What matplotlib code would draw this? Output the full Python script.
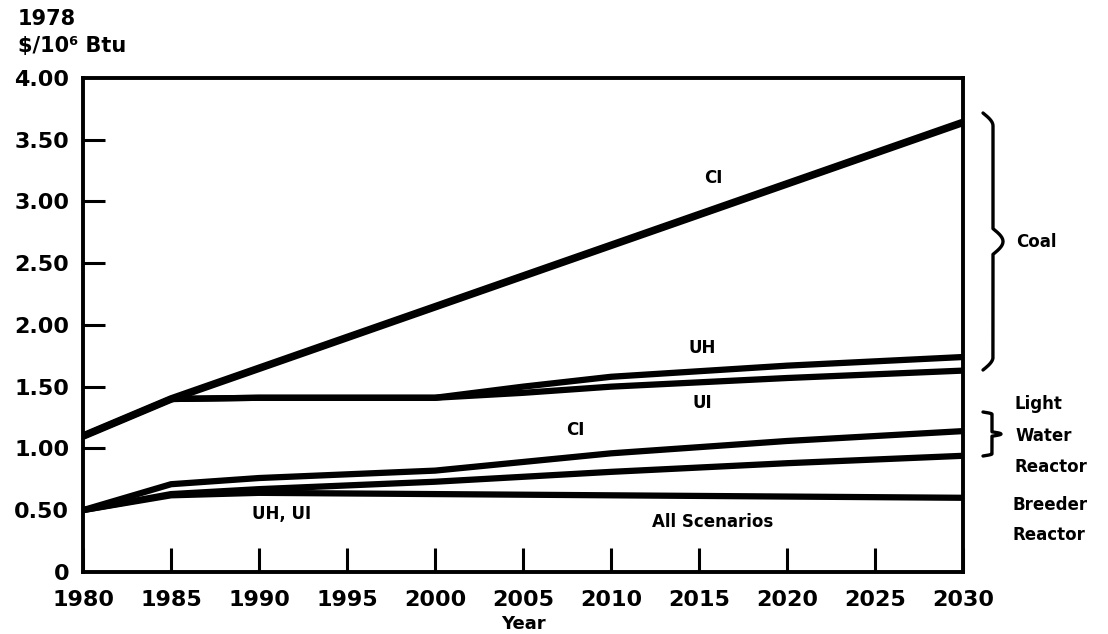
import numpy as np
import matplotlib.pyplot as plt

plt.rcParams['font.family'] = ['DejaVu Sans']
plt.rcParams['font.weight'] = 'bold'

# coal price paths, 1978 $/10^6 Btu
coal_ci_years = [1980, 1985, 2030]
coal_ci = [1.10, 1.40, 3.64]

coal_u_years = [1980, 1985, 1990, 2000, 2005, 2010, 2020, 2030]
coal_uh = [1.10, 1.40, 1.41, 1.41, 1.50, 1.58, 1.67, 1.74]
coal_ui = [1.10, 1.40, 1.41, 1.41, 1.45, 1.50, 1.57, 1.63]

# nuclear fuel cost paths
nuc_years = [1980, 1985, 1990, 2000, 2010, 2020, 2030]
lwr_ci = [0.50, 0.71, 0.76, 0.82, 0.96, 1.06, 1.14]
lwr_uh_ui = [0.50, 0.63, 0.67, 0.73, 0.81, 0.88, 0.94]
breeder = [0.50, 0.62, 0.64, 0.63, 0.62, 0.61, 0.60]

x_ticks = [1980, 1985, 1990, 1995, 2000, 2005, 2010, 2015, 2020, 2025, 2030]
y_ticks = [0, 0.5, 1.0, 1.5, 2.0, 2.5, 3.0, 3.5, 4.0]
y_labels = ['0', '0.50', '1.00', '1.50', '2.00', '2.50', '3.00', '3.50', '4.00']

fig = plt.figure(figsize=(11.08, 6.34), dpi=100)
ax = fig.add_axes([0.075, 0.098, 0.794, 0.779])

line_kw = dict(color='black', solid_capstyle='butt', solid_joinstyle='round')
ax.plot(coal_ci_years, coal_ci, lw=5.5, **line_kw)
ax.plot(coal_u_years, coal_uh, lw=4.5, **line_kw)
ax.plot(coal_u_years, coal_ui, lw=4.5, **line_kw)
ax.plot(nuc_years, lwr_ci, lw=4.5, **line_kw)
ax.plot(nuc_years, lwr_uh_ui, lw=4.5, **line_kw)
ax.plot(nuc_years, breeder, lw=4.5, **line_kw)

ax.set_xlim(1980, 2030)
ax.set_ylim(0, 4.0)
ax.set_xticks(x_ticks)
ax.set_yticks(y_ticks)
ax.set_yticklabels(y_labels)
ax.tick_params(axis='x', direction='in', length=17, width=2.2, pad=13, labelsize=16)
ax.tick_params(axis='y', direction='in', length=16, width=2.2, pad=10, labelsize=16)
for t in ax.xaxis.get_major_ticks():
    if t.get_loc() in (1980, 2030):
        t.tick1line.set_visible(False)
for t in ax.yaxis.get_major_ticks():
    if t.get_loc() in (0, 0.5, 4.0):
        t.tick1line.set_visible(False)
for s in ax.spines.values():
    s.set_linewidth(2.8)

ax.set_xlabel('Year', fontsize=13, fontweight='bold', labelpad=4)

# curve labels
lab = dict(fontsize=12, fontweight='bold', ha='center', va='center')
ax.text(2015.8, 3.19, 'CI', **lab)
ax.text(2015.2, 1.81, 'UH', **lab)
ax.text(2015.2, 1.37, 'UI', **lab)
ax.text(2008.0, 1.15, 'CI', **lab)
ax.text(1991.3, 0.47, 'UH, UI', **lab)
ax.text(2015.8, 0.40, 'All Scenarios', **lab)

# units above the value axis
fig.text(0.016, 0.970, '1978', fontsize=15, fontweight='bold', ha='left', va='center')
fig.text(0.016, 0.928, '$/10⁶ Btu', fontsize=15, fontweight='bold', ha='left', va='center')

# overlay in pixel units for the braces and group names on the right
ov = fig.add_axes([0, 0, 1, 1], facecolor='none')
ov.set_xlim(0, 1108)
ov.set_ylim(634, 0)
ov.axis('off')


def brace(x0, y0, y1, w):
    # curly brace opening to the left, tip pointing right
    ym = (y0 + y1) / 2
    k = 0.05 * (y1 - y0)
    t = np.linspace(0, 1, 40)
    xs, ys = [], []
    xs += list(x0 + 0.5 * w * np.sin(t * np.pi / 2)); ys += list(y0 + t * k)
    xs += [x0 + 0.5 * w, x0 + 0.5 * w]; ys += [y0 + k, ym - k]
    xs += list(x0 + 0.5 * w + 0.5 * w * np.sin(t * np.pi / 2)); ys += list(ym - k + t * k)
    xs += list(x0 + 0.5 * w + 0.5 * w * np.cos(t * np.pi / 2)); ys += list(ym + t * k)
    xs += [x0 + 0.5 * w, x0 + 0.5 * w]; ys += [ym + k, y1 - k]
    xs += list(x0 + 0.5 * w * np.cos(t * np.pi / 2)); ys += list(y1 - k + t * k)
    ov.plot(xs, ys, color='black', lw=2.4, solid_capstyle='round')


brace(983, 113, 370, 20)
brace(983, 412, 456, 18)

side = dict(fontsize=12, fontweight='bold', ha='left', va='center')
ov.text(1016, 242, 'Coal', **side)
ov.text(1015, 404, 'Light', **side)
ov.text(1015, 436, 'Water', **side)
ov.text(1015, 467, 'Reactor', **side)
ov.text(1013, 505, 'Breeder', **side)
ov.text(1013, 535, 'Reactor', **side)

fig.savefig('out.png', dpi=100)
